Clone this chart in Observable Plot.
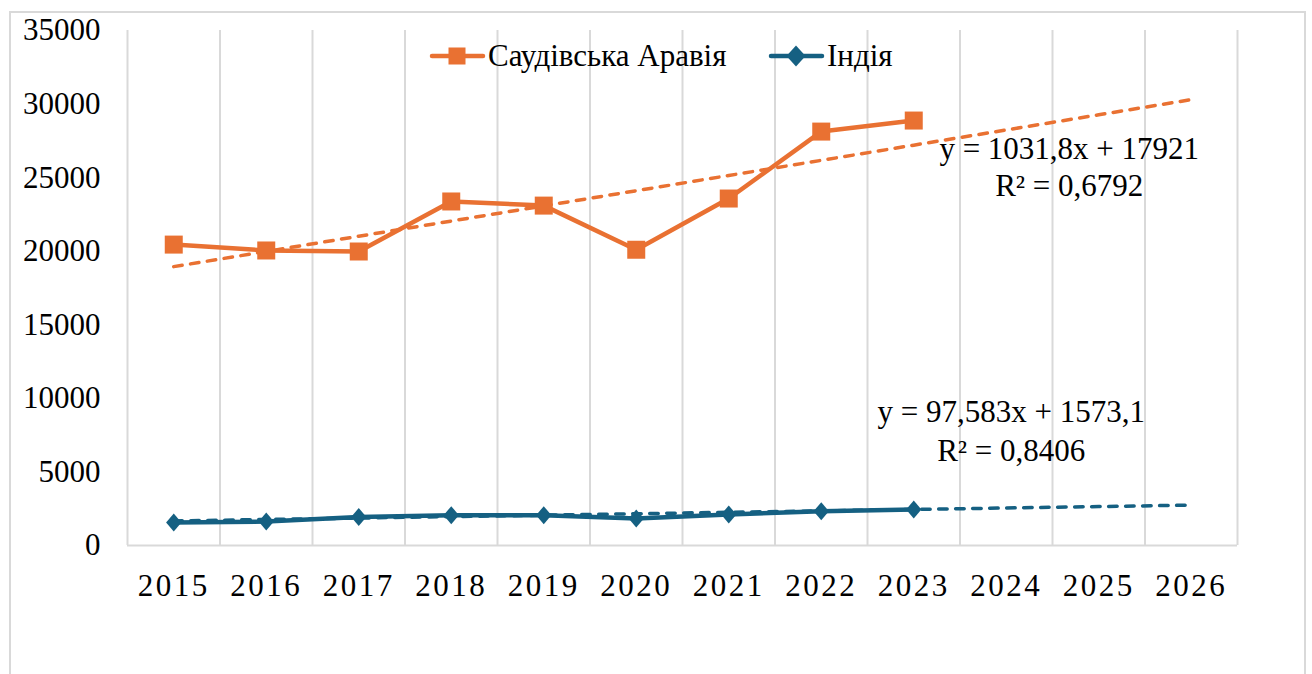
<!DOCTYPE html>
<html>
<head>
<meta charset="utf-8">
<script src="https://cdn.jsdelivr.net/npm/d3@7"></script>
<script src="https://cdn.jsdelivr.net/npm/@observablehq/plot@0.6"></script>
<style>
  body { margin: 0; background: #fff; }
  #wrap { position: relative; width: 1312px; height: 674px; overflow: hidden; font-family: "Liberation Serif", "Times New Roman", serif; }
  #frame { position: absolute; left: 9px; top: 11px; width: 1297px; height: 720px; border: 2px solid #d9d9d9; box-sizing: border-box; }
  #chart { position: absolute; left: 0; top: 0; }
  #chart svg, #chart svg text, #chart svg g { font-family: "Liberation Serif", "Times New Roman", serif !important; }
  #legend { position: absolute; top: 36px; left: 0; width: 1312px; height: 40px; font-size: 31px; color: #000; white-space: nowrap; }
  #legend .item { position: absolute; top: 0; display: flex; align-items: center; height: 40px; }
  #legend svg { display: block; margin-right: 3px; }
  g[aria-label="x-axis tick label"] text { letter-spacing: 2.5px; }
</style>
</head>
<body>
<div id="wrap">
  <div id="frame"></div>
  <div id="chart"></div>
  <div id="legend"></div>
</div>
<script>
// ---- data ----
const years = [2015, 2016, 2017, 2018, 2019, 2020, 2021, 2022, 2023, 2024, 2025, 2026];
const dataYears = [2015, 2016, 2017, 2018, 2019, 2020, 2021, 2022, 2023];
const saudi = [20450, 20050, 19980, 23380, 23100, 20100, 23580, 28130, 28880];
const india = [1560, 1630, 1930, 2060, 2060, 1840, 2110, 2330, 2450];
const seriesNames = ["Саудівська Аравія", "Індія"];
const seriesColors = ["#E97132", "#156082"];
const trendSlopes = [1031.8, 97.583];
const trendIntercepts = [17921, 1573.1];
const trendLabels = ["y = 1031,8x + 17921\nR² = 0,6792", "y = 97,583x + 1573,1\nR² = 0,8406"];
const yTicks = [0, 5000, 10000, 15000, 20000, 25000, 30000, 35000];

// ---- tables built from the arrays ----
const saudiRows = dataYears.map((yr, i) => ({year: yr, value: saudi[i]}));
const indiaRows = dataYears.map((yr, i) => ({year: yr, value: india[i]}));
const trendRows = (k) => years.map((yr, i) => ({year: yr, value: trendSlopes[k] * (i + 1) + trendIntercepts[k]}));
const saudiTrend = trendRows(0);
const indiaTrend = trendRows(1);
const gridX = [years[0] - 0.5, ...years.map(y => y + 0.5)];

// custom symbols
const squareSym = { draw(ctx, size) { const r = Math.sqrt(size / Math.PI); ctx.rect(-r, -r, 2 * r, 2 * r); } };
const diamondSym = { draw(ctx, size) { const r = Math.sqrt(size / Math.PI); const w = r * 0.85; ctx.moveTo(0, -r); ctx.lineTo(w, 0); ctx.lineTo(0, r); ctx.lineTo(-w, 0); ctx.closePath(); } };

const dash = {strokeWidth: 3.5, strokeDasharray: "8.5,8.5", strokeLinecap: "round"};
const serif = "Liberation Serif, Times New Roman, serif";

const chart = Plot.plot({
  width: 1312,
  height: 674,
  marginLeft: 127,
  marginRight: 75,
  marginTop: 30,
  marginBottom: 129,
  style: { fontFamily: serif, fontSize: "31px", color: "#000", background: "transparent", overflow: "visible" },
  x: { domain: [years[0] - 0.5, years[years.length - 1] + 0.5], ticks: years, tickFormat: d => String(d), tickSize: 0, tickPadding: 28, label: null },
  y: { domain: [0, 35000], ticks: yTicks, tickFormat: d => String(d), tickSize: 0, tickPadding: 27, label: null },
  marks: [
    Plot.ruleX(gridX, { y1: 0, y2: 35000, stroke: "#d9d9d9", strokeWidth: 2 }),
    Plot.ruleY([0], { stroke: "#d9d9d9", strokeWidth: 2 }),
    Plot.line(saudiRows, { x: "year", y: "value", stroke: seriesColors[0], strokeWidth: 4.5, strokeLinejoin: "round" }),
    Plot.line(indiaRows, { x: "year", y: "value", stroke: seriesColors[1], strokeWidth: 4.5, strokeLinejoin: "round" }),
    Plot.line(saudiTrend, { x: "year", y: "value", stroke: seriesColors[0], ...dash }),
    Plot.line(indiaTrend, { x: "year", y: "value", stroke: seriesColors[1], ...dash }),
    Plot.dot(saudiRows, { x: "year", y: "value", symbol: squareSym, r: 9, fill: seriesColors[0], stroke: "none" }),
    Plot.dot(indiaRows, { x: "year", y: "value", symbol: diamondSym, r: 9, fill: seriesColors[1], stroke: "none" }),
    Plot.text([saudiTrend[saudiTrend.length - 1]], { x: "year", y: "value", text: () => trendLabels[0], dx: -122, dy: 33, lineAnchor: "top", lineHeight: 1.19, fill: "#000", fontSize: 31, fontFamily: serif }),
    Plot.text([indiaTrend[indiaTrend.length - 1]], { x: "year", y: "value", text: () => trendLabels[1], dx: -180, dy: -111, lineAnchor: "top", lineHeight: 1.26, fill: "#000", fontSize: 31, fontFamily: serif })
  ]
});
document.getElementById("chart").appendChild(chart);

// ---- legend ----
const legend = document.getElementById("legend");
const legendLeft = [430, 769];
const symPaths = [
  '<rect x="18.5" y="1.5" width="17" height="17"/>',
  '<path d="M27 -0.5 L36.5 10 L27 20.5 L17.5 10 Z"/>'
];
seriesNames.forEach((name, i) => {
  const item = document.createElement("div");
  item.className = "item";
  item.style.left = legendLeft[i] + "px";
  item.innerHTML = `<svg width="55" height="20" viewBox="0 0 55 20" style="overflow:visible"><line x1="2" y1="10" x2="53" y2="10" stroke="${seriesColors[i]}" stroke-width="4.5" stroke-linecap="round"/><g fill="${seriesColors[i]}">${symPaths[i]}</g></svg><span>${name}</span>`;
  legend.appendChild(item);
});
</script>
</body>
</html>
